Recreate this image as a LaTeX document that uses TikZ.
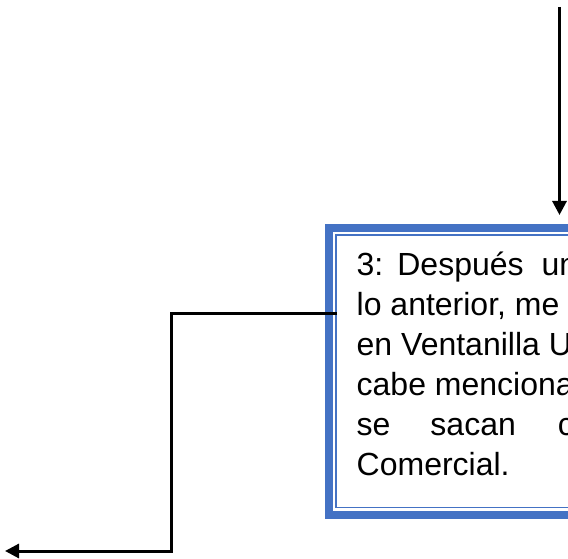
\documentclass[tikz,border=0pt]{standalone}
\usepackage{fontspec}
\setmainfont{Liberation Sans}
\usetikzlibrary{arrows.meta}
\definecolor{frameblue}{RGB}{68,114,196}
\tikzset{
  wire/.style={line width=3pt, -{Triangle[length=14pt,width=14pt]}},
  frame/.style={draw=frameblue, line width=8pt, outer sep=0pt, inner sep=0pt,
    minimum width=311pt, minimum height=286.5pt},
  rim/.style={draw=frameblue, line width=1.6pt},
  txt/.style={anchor=base west, inner sep=0pt, font=\fontsize{32}{40}\selectfont}
}
\begin{document}
\begin{tikzpicture}[x=10pt,y=10pt]
  \useasboundingbox (0,0) rectangle (56.8,55.8);

  % Step box (runs past the right edge)
  \node[frame] (box) at (48.45,18.675) {};
  \draw[rim] ([shift={(7pt,-7pt)}]box.north west) rectangle ([shift={(-7pt,7pt)}]box.south east);

  % Step text
  \node[txt] (l1) at (35.65,28.3) {3:\hspace{14pt}Después\hspace{18pt}un};
  \node[txt] (l2) at (35.65,24.3) {lo anterior, me};
  \node[txt] (l3) at (35.65,20.3) {en Ventanilla U};
  \node[txt] (l4) at (35.65,16.3) {cabe menciona};
  \node[txt] (l5) at (35.65,12.3) {se\hspace{40pt}sacan\hspace{42pt}c};
  \node[txt] (l6) at (35.65,8.3) {Comercial.};

  % Connectors
  \coordinate (inlet) at (55.95,55.1);
  \coordinate (bend) at (17.15,24.5);
  \coordinate (outtip) at (0.5,0.7);
  \draw[wire, shorten >=13pt] (inlet) -- (inlet |- box.north);
  \draw[wire] ([xshift=8pt]box.west |- bend) -- (bend) |- (outtip);
\end{tikzpicture}
\end{document}
